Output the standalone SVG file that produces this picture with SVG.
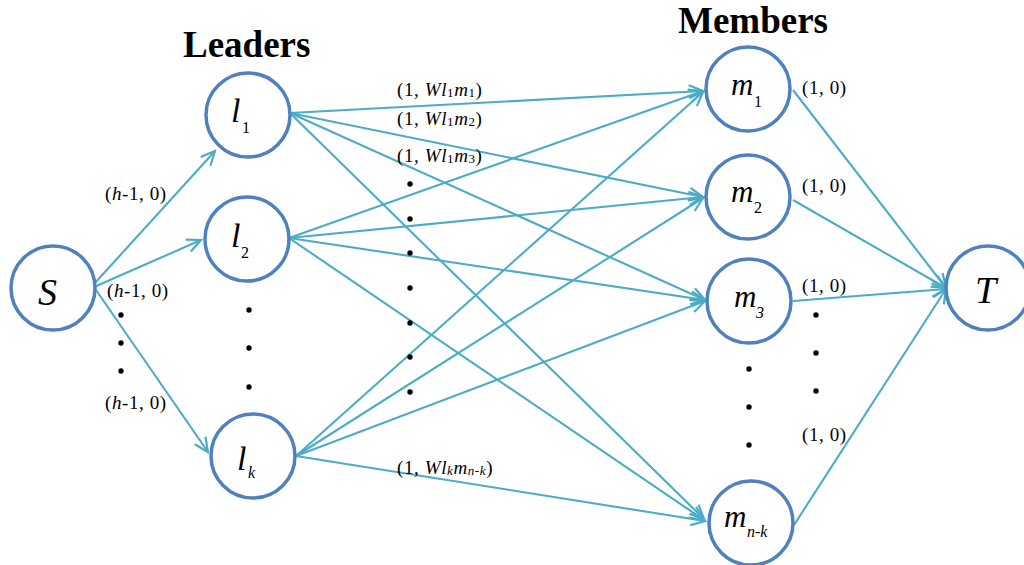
<svg xmlns="http://www.w3.org/2000/svg" width="1024" height="565" viewBox="0 0 1024 565">
<defs>
<marker id="arr" viewBox="0 0 18 18" refX="16" refY="9" markerWidth="18" markerHeight="18" markerUnits="userSpaceOnUse" orient="auto">
<path d="M2,2.5 L16,9 L2,15.5" fill="none" stroke="#4BACC6" stroke-width="2.2"/>
</marker>
<style>
.node{fill:#fff;stroke:#4F81BD;stroke-width:3.5}
.edge{stroke:#4BACC6;stroke-width:2.1;fill:none;marker-end:url(#arr)}
.lbl{font-family:"Liberation Serif","Times New Roman",serif;font-size:19px;letter-spacing:0.6px;fill:#000}
.it{font-style:italic}
.big{font-family:"Liberation Serif","Times New Roman",serif;font-style:italic;fill:#000}
.sub{font-family:"Liberation Serif","Times New Roman",serif;font-size:16px;fill:#000}
.title{font-family:"Liberation Serif","Times New Roman",serif;font-weight:bold;font-size:37px;fill:#000}
.dot{fill:#000}
</style>
</defs>
<rect width="1024" height="565" fill="#fff"/>

<text class="title" x="183" y="57">Leaders</text>
<text class="title" x="678" y="33">Members</text>

<g id="connectors">
<line class="edge" x1="94" y1="284" x2="215" y2="151"/>
<line class="edge" x1="94" y1="287" x2="201" y2="240"/>
<line class="edge" x1="96" y1="290" x2="208" y2="452"/>

<line class="edge" x1="290" y1="113" x2="703" y2="91"/>
<line class="edge" x1="290" y1="113" x2="703" y2="197"/>
<line class="edge" x1="290" y1="113" x2="705" y2="300"/>
<line class="edge" x1="290" y1="113" x2="704" y2="519"/>

<line class="edge" x1="289" y1="238" x2="703" y2="91"/>
<line class="edge" x1="289" y1="238" x2="703" y2="197"/>
<line class="edge" x1="289" y1="238" x2="705" y2="300"/>
<line class="edge" x1="289" y1="238" x2="704" y2="520"/>

<line class="edge" x1="296" y1="456" x2="703" y2="92"/>
<line class="edge" x1="296" y1="456" x2="703" y2="198"/>
<line class="edge" x1="296" y1="456" x2="705" y2="301"/>
<line class="edge" x1="296" y1="456" x2="705" y2="521"/>

<line class="edge" x1="793" y1="90" x2="946" y2="288"/>
<line class="edge" x1="793" y1="200" x2="946" y2="288"/>
<line class="edge" x1="793" y1="301" x2="946" y2="289"/>
<line class="edge" x1="794" y1="525" x2="946" y2="289"/>
</g>

<g id="node-S">
<circle class="node" cx="53" cy="288" r="42"/>
<text class="big" x="38" y="305" font-size="38">S</text>
</g>
<g id="node-l1">
<circle class="node" cx="248" cy="115" r="42"/>
<text class="big" x="231" y="122" font-size="34">l</text>
<text class="sub" x="242" y="133">1</text>
</g>
<g id="node-l2">
<circle class="node" cx="247" cy="239" r="42"/>
<text class="big" x="231" y="247" font-size="34">l</text>
<text class="sub" x="241" y="258">2</text>
</g>
<g id="node-lk">
<circle class="node" cx="253" cy="456" r="42"/>
<text class="big" x="237" y="470" font-size="34">l</text>
<text class="sub it" x="248" y="478">k</text>
</g>
<g id="node-m1">
<circle class="node" cx="748" cy="89" r="42"/>
<text class="big" x="731" y="95" font-size="31">m</text>
<text class="sub" x="754" y="107">1</text>
</g>
<g id="node-m2">
<circle class="node" cx="748" cy="197" r="42"/>
<text class="big" x="731" y="202" font-size="31">m</text>
<text class="sub" x="754" y="213">2</text>
</g>
<g id="node-m3">
<circle class="node" cx="749" cy="301" r="42"/>
<text class="big" x="734" y="307" font-size="31">m</text>
<text class="sub it" x="756" y="318">3</text>
</g>
<g id="node-mnk">
<circle class="node" cx="751" cy="523" r="42"/>
<text class="big" x="724" y="527" font-size="31">m</text>
<text class="sub it" x="747" y="537">n-k</text>
</g>
<g id="node-T">
<circle class="node" cx="988" cy="288" r="42"/>
<text class="big" x="975" y="303" font-size="38">T</text>
</g>

<g id="edge-labels">
<text class="lbl" x="105" y="200">(<tspan class="it">h</tspan>-1, 0)</text>
<text class="lbl" x="107" y="297">(<tspan class="it">h</tspan>-1, 0)</text>
<text class="lbl" x="105" y="409">(<tspan class="it">h</tspan>-1, 0)</text>

<text class="lbl" x="397" y="96">(1, <tspan class="it">Wl</tspan><tspan font-size="13" dy="1">1</tspan><tspan class="it" dy="-1">m</tspan><tspan font-size="13" dy="1">1</tspan><tspan dy="-1">)</tspan></text>
<text class="lbl" x="397" y="125">(1, <tspan class="it">Wl</tspan><tspan font-size="13" dy="1">1</tspan><tspan class="it" dy="-1">m</tspan><tspan font-size="13" dy="1">2</tspan><tspan dy="-1">)</tspan></text>
<text class="lbl" x="397" y="162">(1, <tspan class="it">Wl</tspan><tspan font-size="13" dy="1">1</tspan><tspan class="it" dy="-1">m</tspan><tspan font-size="13" dy="1">3</tspan><tspan dy="-1">)</tspan></text>
<text class="lbl" x="397" y="474">(1, <tspan class="it">Wl</tspan><tspan class="it" font-size="13" dy="1">k</tspan><tspan class="it" dy="-1">m</tspan><tspan class="it" font-size="13" dy="1">n-k</tspan><tspan dy="-1">)</tspan></text>

<text class="lbl" x="802" y="94">(1, 0)</text>
<text class="lbl" x="802" y="192">(1, 0)</text>
<text class="lbl" x="802" y="292">(1, 0)</text>
<text class="lbl" x="802" y="441">(1, 0)</text>
</g>

<g id="ellipses">
<circle class="dot" cx="121" cy="315" r="2.7"/>
<circle class="dot" cx="121" cy="343" r="2.7"/>
<circle class="dot" cx="121" cy="371" r="2.7"/>
<circle class="dot" cx="249" cy="310" r="2.7"/>
<circle class="dot" cx="249" cy="348" r="2.7"/>
<circle class="dot" cx="249" cy="387" r="2.7"/>
<circle class="dot" cx="410" cy="184" r="2.7"/>
<circle class="dot" cx="410" cy="219" r="2.7"/>
<circle class="dot" cx="410" cy="253" r="2.7"/>
<circle class="dot" cx="410" cy="288" r="2.7"/>
<circle class="dot" cx="410" cy="323" r="2.7"/>
<circle class="dot" cx="410" cy="357" r="2.7"/>
<circle class="dot" cx="410" cy="392" r="2.7"/>
<circle class="dot" cx="749" cy="369" r="2.7"/>
<circle class="dot" cx="749" cy="407" r="2.7"/>
<circle class="dot" cx="749" cy="445" r="2.7"/>
<circle class="dot" cx="816" cy="315" r="2.7"/>
<circle class="dot" cx="816" cy="353" r="2.7"/>
<circle class="dot" cx="816" cy="391" r="2.7"/>
</g>
</svg>
